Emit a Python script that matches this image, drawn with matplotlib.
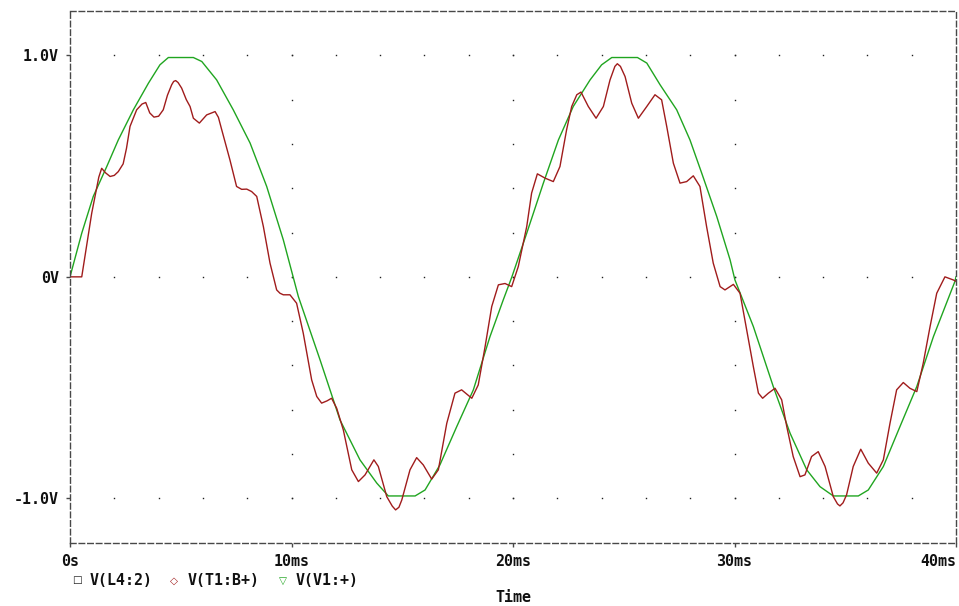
import numpy as np
import matplotlib
matplotlib.use("Agg")
import matplotlib.pyplot as plt

# ---- data (time in ms, voltage in V) ----
t_red = [0.00, 0.53, 0.98, 1.30, 1.43, 1.60, 1.81, 2.00, 2.18, 2.40, 2.55, 2.71, 3.01, 3.25, 3.42, 3.60,
         3.79, 4.00, 4.21, 4.40, 4.59, 4.68, 4.77, 4.88, 5.04, 5.25, 5.42, 5.57, 5.84, 6.17, 6.40, 6.55,
         6.70, 6.85, 7.22, 7.52, 7.75, 7.98, 8.20, 8.43, 8.73, 9.03, 9.33, 9.48, 9.63, 9.93, 10.23, 10.53,
         10.91, 11.14, 11.36, 11.60, 11.81, 12.04, 12.34, 12.72, 13.02, 13.32, 13.72, 13.92, 14.30, 14.55,
         14.70, 14.85, 14.98, 15.35, 15.65, 15.95, 16.33, 16.63, 17.01, 17.38, 17.68, 18.14, 18.43, 18.74,
         19.04, 19.34, 19.64, 19.94, 20.24, 20.62, 20.84, 21.10, 21.44, 21.82, 22.12, 22.42, 22.65, 22.88,
         23.07, 23.40, 23.75, 24.08, 24.38, 24.60, 24.71, 24.85, 25.06, 25.36, 25.66, 26.04, 26.41, 26.71,
         26.94, 27.24, 27.54, 27.84, 28.14, 28.44, 28.74, 29.04, 29.35, 29.57, 29.95, 30.25, 30.55, 30.85,
         31.08, 31.27, 31.53, 31.83, 32.13, 32.36, 32.65, 32.96, 33.18, 33.48, 33.78, 34.09, 34.46, 34.65,
         34.76, 34.90, 35.06, 35.36, 35.70, 36.04, 36.42, 36.72, 37.02, 37.32, 37.62, 37.92, 38.23, 38.52,
         38.83, 39.13, 39.50, 39.88, 40.00]
v_red = [0.000, 0.000, 0.287, 0.450, 0.490, 0.470, 0.453, 0.458, 0.475, 0.510, 0.580, 0.679, 0.754, 0.780,
         0.787, 0.740, 0.721, 0.725, 0.754, 0.820, 0.867, 0.882, 0.886, 0.877, 0.852, 0.800, 0.769, 0.716,
         0.694, 0.731, 0.740, 0.746, 0.720, 0.664, 0.528, 0.408, 0.395, 0.396, 0.385, 0.363, 0.227, 0.062,
         -0.059, -0.074, -0.081, -0.081, -0.119, -0.254, -0.465, -0.540, -0.570, -0.560, -0.548, -0.593,
         -0.691, -0.871, -0.924, -0.894, -0.826, -0.856, -0.992, -1.035, -1.052, -1.040, -1.007, -0.871,
         -0.816, -0.849, -0.913, -0.871, -0.661, -0.525, -0.510, -0.548, -0.488, -0.315, -0.134, -0.036,
         -0.030, -0.044, 0.047, 0.227, 0.378, 0.465, 0.446, 0.430, 0.498, 0.664, 0.769, 0.822, 0.834, 0.769,
         0.716, 0.769, 0.889, 0.950, 0.962, 0.950, 0.904, 0.784, 0.716, 0.769, 0.822, 0.799, 0.679, 0.513,
         0.423, 0.430, 0.456, 0.408, 0.227, 0.062, -0.044, -0.059, -0.034, -0.074, -0.239, -0.405, -0.525,
         -0.548, -0.525, -0.503, -0.555, -0.676, -0.811, -0.902, -0.894, -0.811, -0.789, -0.856, -0.992,
         -1.025, -1.034, -1.020, -0.984, -0.856, -0.778, -0.841, -0.886, -0.826, -0.661, -0.510, -0.477,
         -0.503, -0.518, -0.390, -0.224, -0.074, 0.000, -0.014, -0.020]

t_green = [0.00, 0.53, 1.05, 1.66, 2.18, 2.86, 3.54, 4.06, 4.44, 5.57, 5.95, 6.62, 7.37, 8.13, 8.88, 9.63,
           10.31, 11.29, 12.19, 13.09, 13.85, 14.37, 15.58, 16.03, 16.70, 17.46, 18.21, 18.96, 19.56, 19.95,
           20.62, 21.37, 22.05, 22.72, 23.48, 24.00, 24.46, 25.62, 26.04, 26.64, 27.39, 27.99, 28.52, 29.20,
           29.80, 30.02, 30.85, 31.75, 32.51, 33.26, 33.86, 34.46, 35.59, 36.04, 36.72, 37.47, 38.23, 38.98,
           39.95, 40.00]
v_green = [0.000, 0.197, 0.363, 0.498, 0.618, 0.754, 0.874, 0.957, 0.990, 0.990, 0.972, 0.889, 0.754, 0.604,
           0.408, 0.167, -0.089, -0.375, -0.646, -0.826, -0.931, -0.989, -0.989, -0.962, -0.849, -0.676,
           -0.510, -0.270, -0.104, 0.000, 0.197, 0.423, 0.618, 0.769, 0.889, 0.957, 0.990, 0.990, 0.965,
           0.867, 0.754, 0.618, 0.468, 0.272, 0.077, -0.014, -0.224, -0.495, -0.706, -0.871, -0.947, -0.989,
           -0.989, -0.962, -0.856, -0.676, -0.495, -0.270, -0.021, 0.000]

x_ticks = [0, 10, 20, 30, 40]
x_labels = ["0s", "10ms", "20ms", "30ms", "40ms"]
y_ticks = [-1.0, 0.0, 1.0]
y_labels = ["-1.0V", "0V", "1.0V"]
legend_names = ["V(L4:2)", "V(T1:B+)", "V(V1:+)"]

RED = "#a01c1c"
GREEN = "#20a520"
FRAME = "#484848"
MONO = ["DejaVu Sans Mono"]
FS = 10.8

fig = plt.figure(figsize=(9.59, 6.06), dpi=100)
ax = fig.add_axes([70 / 959, 1 - 542.7 / 606, (956 - 70) / 959, (542.7 - 11) / 606])

# dotted grid: rows at major y ticks every 2 ms, columns at major x ticks every 0.2 V
gx = np.arange(2, 40, 2)
for yv in y_ticks:
    ax.plot(gx, np.full_like(gx, yv, dtype=float), linestyle="none", marker="s",
            markersize=1.0, markeredgewidth=0, color="#202020")
gy = np.arange(-1.0, 1.01, 0.2)
for xv in x_ticks[1:-1]:
    ax.plot(np.full_like(gy, xv), gy, linestyle="none", marker="s",
            markersize=1.0, markeredgewidth=0, color="#202020")

ax.plot(t_green, v_green, color=GREEN, lw=1.0, solid_joinstyle="round")
ax.plot(t_red, v_red, color=RED, lw=1.0, solid_joinstyle="round")

ax.set_xlim(0, 40)
ax.set_ylim(-1.2, 1.2)
ax.set_xticks(x_ticks)
ax.set_xticklabels(x_labels)
ax.set_yticks(y_ticks)
ax.set_yticklabels(y_labels)
ax.tick_params(axis="both", direction="out", length=3, width=1.0, color=FRAME,
               labelsize=FS, pad=5)
for lab in ax.get_xticklabels() + ax.get_yticklabels():
    lab.set_family(MONO)
    lab.set_fontweight("bold")
    lab.set_color("#111111")
ax.get_xticklabels()[-1].set_horizontalalignment("right")
ax.get_xticklabels()[0].set_horizontalalignment("center")
for sp in ax.spines.values():
    sp.set_linestyle((0, (4, 2.2)))
    sp.set_color(FRAME)
    sp.set_linewidth(1.0)

# legend row under the axis
ly = 1 - 580.5 / 606
fig.text(77 / 959, ly, "□", color="#202020", fontsize=7.5, ha="center", va="center", family=["DejaVu Sans"])
fig.text(90 / 959, ly, legend_names[0], color="#111111", fontsize=FS, fontweight="bold",
         ha="left", va="center", family=MONO)
fig.text(174 / 959, ly, "◇", color=RED, fontsize=7.5, ha="center", va="center", family=["DejaVu Sans"])
fig.text(188 / 959, ly, legend_names[1], color="#111111", fontsize=FS, fontweight="bold",
         ha="left", va="center", family=MONO)
fig.text(283 / 959, ly, "▽", color=GREEN, fontsize=7.5, ha="center", va="center", family=["DejaVu Sans"])
fig.text(296 / 959, ly, legend_names[2], color="#111111", fontsize=FS, fontweight="bold",
         ha="left", va="center", family=MONO)

fig.text(513 / 959, 1 - 598 / 606, "Time", color="#111111", fontsize=FS, fontweight="bold",
         ha="center", va="center", family=MONO)

fig.savefig("out.png", dpi=100)
